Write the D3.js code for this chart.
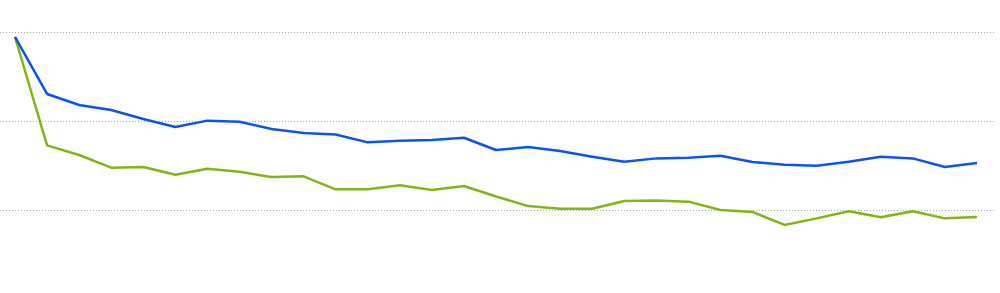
<!DOCTYPE html>
<html lang="en">
<head>
    <meta charset="utf-8">
    <title>Two series line chart</title>
    <script src="https://d3js.org/d3.v7.min.js"></script>
    <style>
        body { margin: 0; background: #fff; }
        .grid line {
            stroke: #98a8bd;
            stroke-dasharray: 1 2;
        }
        .grid .domain { display: none; }
        .series { fill: none; stroke-width: 2.5; stroke-linejoin: round; }
    </style>
</head>
<body>
    <script>
        // Width and height
        var w = 1000;
        var h = 293;

        // data
        var periods = d3.range(1, 32);
        var blueValues = [97.2, 65.2, 59.0, 56.2, 51.1, 46.6, 50.2, 49.6, 45.5, 43.3,
            42.4, 38.0, 38.9, 39.3, 40.6, 33.7, 35.4, 33.1, 29.9, 27.1,
            29.0, 29.4, 30.5, 27.0, 25.4, 24.9, 27.1, 29.9, 29.0, 24.2, 26.4];
        var greenValues = [97.2, 36.3, 30.9, 23.8, 24.2, 19.8, 23.2, 21.5, 18.5, 18.9,
            11.6, 11.6, 13.9, 11.2, 13.5, 7.6, 2.2, 0.7, 0.7, 5.1,
            5.4, 4.7, 0.0, -1.1, -8.4, -4.7, -0.7, -4.1, -0.7, -4.7, -3.9];
        var gridValues = [0, 50, 100];

        var x = d3.scaleLinear()
            .domain([1, 31])
            .range([15, 977]);

        var y = d3.scaleLinear()
            .domain([0, 100])
            .range([210, 32]);

        var svg = d3.select("body")
            .append("svg")
            .attr("width", w)
            .attr("height", h);

        // dotted gridlines
        svg.append("g")
            .attr("class", "grid")
            .call(d3.axisLeft(y)
                .tickValues(gridValues)
                .tickSize(-995)
                .tickFormat(""));

        var line = d3.line()
            .x(function (d, i) { return x(periods[i]); })
            .y(function (d) { return y(d); });

        svg.append("path")
            .datum(greenValues)
            .attr("class", "series")
            .attr("stroke", "#84b418")
            .attr("d", line);

        svg.append("path")
            .datum(blueValues)
            .attr("class", "series")
            .attr("stroke", "#0b55e8")
            .attr("d", line);
    </script>
</body>
</html>
